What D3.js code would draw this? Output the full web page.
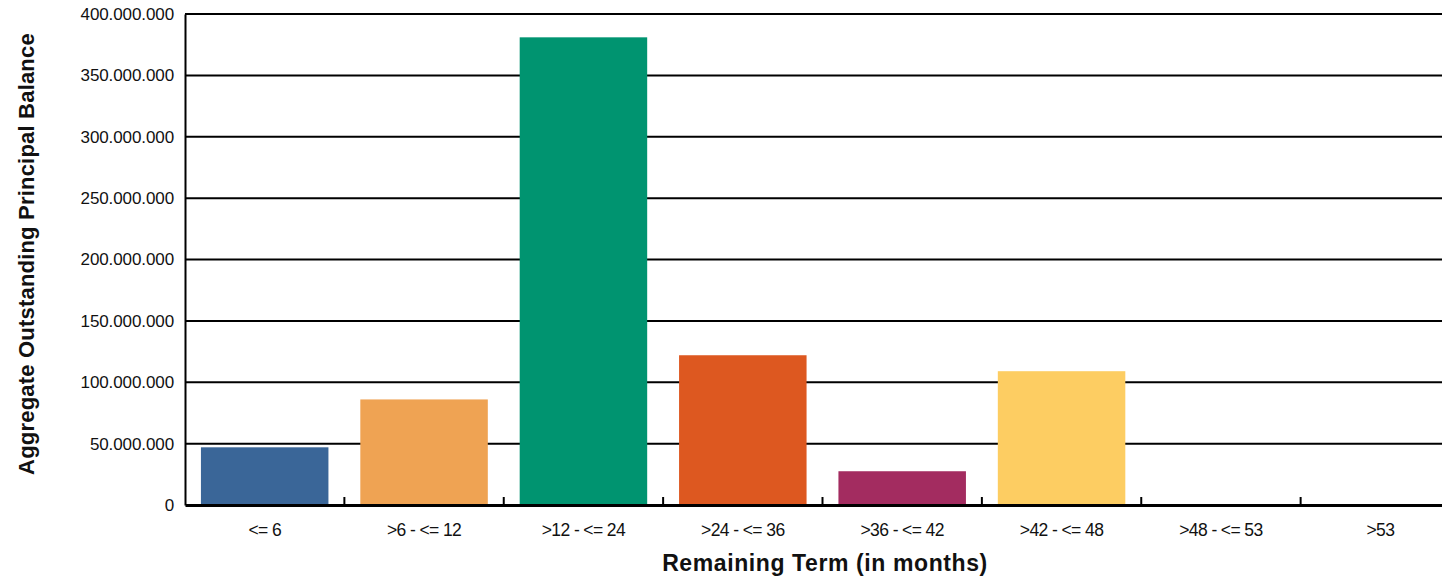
<!DOCTYPE html>
<html>
<head>
<meta charset="utf-8">
<script src="https://cdn.jsdelivr.net/npm/d3@7"></script>
<style>
  body { margin: 0; background: #fff; }
  svg { display: block; }
</style>
</head>
<body>
<svg id="chart" width="1442" height="576"></svg>
<script>
//---- Data -------------------------------------------------------------------
var categories = ["<= 6", ">6 - <= 12", ">12 - <= 24", ">24 - <= 36", ">36 - <= 42", ">42 - <= 48", ">48 - <= 53", ">53"];
var balances = [47000000, 86000000, 381000000, 122000000, 27500000, 109000000, 0, 0];
var barColors = ["#3a6698", "#efa353", "#009470", "#dd5820", "#a32c60", "#fdcd62", "#cccccc", "#cccccc"];
var yTicks = [0, 50000000, 100000000, 150000000, 200000000, 250000000, 300000000, 350000000, 400000000];

//---- Layout -----------------------------------------------------------------
var svg = d3.select("#chart");
var plotLeft = 185, plotRight = 1460, plotTop = 14, plotBottom = 505;

var x = d3.scaleBand()
  .domain(categories)
  .range([plotLeft, plotRight])
  .paddingInner(0.2)
  .paddingOuter(0.1);

var y = d3.scaleLinear().domain([0, 400000000]).range([plotBottom, plotTop]);

// dots as thousands separators
var fmt = function (v) { return v === 0 ? "0" : d3.format(",")(v).replace(/,/g, "."); };

// gridlines
svg.append("g")
  .selectAll("line")
  .data(yTicks.slice(1))
  .enter()
  .append("line")
  .attr("x1", plotLeft).attr("x2", plotRight)
  .attr("y1", function (d) { return y(d); })
  .attr("y2", function (d) { return y(d); })
  .attr("stroke", "#000")
  .attr("stroke-width", 2);

// bars
svg.append("g")
  .selectAll("rect")
  .data(categories)
  .enter()
  .append("rect")
  .attr("x", function (d) { return x(d); })
  .attr("width", x.bandwidth())
  .attr("y", function (d, i) { return y(balances[i]); })
  .attr("height", function (d, i) { return plotBottom - y(balances[i]); })
  .attr("fill", function (d, i) { return barColors[i]; });

// y axis
var yAxis = svg.append("g")
  .attr("transform", "translate(" + plotLeft + ",0)")
  .call(d3.axisLeft(y).tickValues(yTicks).tickFormat(fmt).tickSize(0).tickPadding(11));
yAxis.select(".domain").attr("stroke", "#000").attr("stroke-width", 2);
yAxis.selectAll("text")
  .attr("font-family", "'Liberation Sans', Arial, sans-serif")
  .attr("font-size", 17)
  .attr("letter-spacing", -0.1)
  .attr("fill", "#111");

// x axis: ticks between bands, pointing up
var xAxis = svg.append("g")
  .attr("transform", "translate(0," + plotBottom + ")")
  .call(d3.axisBottom(x).tickSize(0).tickPadding(19));
xAxis.select(".domain").attr("stroke", "#000").attr("stroke-width", 3);
xAxis.selectAll("text")
  .attr("font-family", "'Liberation Sans', Arial, sans-serif")
  .attr("font-size", 17.5)
  .attr("letter-spacing", -0.6)
  .attr("fill", "#111");

var step = x.step();
svg.append("g")
  .selectAll("line")
  .data(categories.slice(1))
  .enter()
  .append("line")
  .attr("x1", function (d) { return x(d) - step * 0.1; })
  .attr("x2", function (d) { return x(d) - step * 0.1; })
  .attr("y1", plotBottom)
  .attr("y2", plotBottom - 8)
  .attr("stroke", "#000")
  .attr("stroke-width", 2);

// axis titles
svg.append("text")
  .attr("x", 825)
  .attr("y", 571)
  .attr("text-anchor", "middle")
  .attr("font-family", "'Liberation Sans Narrow', 'Liberation Sans', Arial, sans-serif")
  .attr("font-weight", "bold")
  .attr("font-size", 23)
  .attr("letter-spacing", 0.6)
  .attr("fill", "#111")
  .text("Remaining Term (in months)");

svg.append("text")
  .attr("transform", "translate(34,254) rotate(-90)")
  .attr("text-anchor", "middle")
  .attr("font-family", "'Liberation Sans Narrow', 'Liberation Sans', Arial, sans-serif")
  .attr("font-weight", "bold")
  .attr("font-size", 22)
  .attr("letter-spacing", 0.2)
  .attr("fill", "#111")
  .text("Aggregate Outstanding Principal Balance");
</script>
</body>
</html>
